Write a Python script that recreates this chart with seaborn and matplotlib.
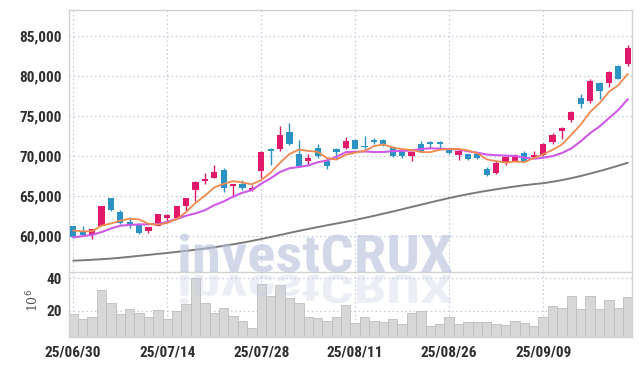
import numpy as np
import pandas as pd
import matplotlib
matplotlib.use("Agg")
import matplotlib.pyplot as plt
import matplotlib.ticker as mticker
import seaborn as sns
from matplotlib.textpath import TextPath
from matplotlib.patches import PathPatch
from matplotlib.font_manager import FontProperties, fontManager
from matplotlib.transforms import Affine2D

# ---------------- data ----------------
opens = [61200, 60500, 60100, 61300, 64800, 63000, 61800, 61500, 60600, 61300,
         62200, 62200, 63750, 65800, 66900, 67300, 68200, 66230, 66560, 65700,
         68170, 70900, 70900, 73000, 70280, 69400, 70980, 69320, 70900, 70980,
         72000, 71180, 72010, 72010, 71060, 70490, 70030, 71480, 71760, 71760,
         70890, 70060, 70190, 70240, 68420, 67890, 69160, 69410, 70360, 69820,
         70060, 71800, 73160, 74520, 77250, 76840, 79150, 79110, 81170, 81460]
highs = [61300, 61200, 60900, 63800, 64800, 63300, 62400, 61600, 61100, 62800,
         62700, 63800, 64800, 66850, 67880, 68900, 68450, 66500, 66970, 66400,
         70600, 70950, 73740, 74070, 72010, 70240, 71500, 69400, 71000, 72420,
         72100, 72500, 72200, 72100, 71300, 70600, 70600, 71880, 71900, 71900,
         71000, 70700, 70300, 70300, 68600, 69450, 69900, 70200, 70560, 70560,
         71600, 72880, 73600, 75560, 77700, 79560, 79200, 80600, 81290, 83880]
lows = [59750, 60000, 59700, 61200, 63100, 61500, 61000, 60250, 60400, 61200,
        61900, 62100, 63130, 64370, 66440, 67200, 65480, 64900, 65800, 65600,
        67260, 68900, 70560, 71400, 68700, 68830, 69800, 68420, 69620, 70900,
        70900, 70900, 71500, 71180, 69900, 69690, 69370, 70500, 70980, 70980,
        70250, 69530, 69500, 69650, 67460, 67800, 68910, 69350, 69350, 69700,
        70000, 71550, 72130, 74200, 75970, 76630, 77080, 78610, 79640, 81170]
closes = [59850, 60100, 60850, 63800, 63250, 61600, 61350, 60400, 61100, 62700,
          62600, 63800, 64750, 66800, 67150, 67950, 65950, 66480, 65950, 66030,
          70520, 70560, 72630, 71430, 68790, 69740, 69940, 68790, 70440, 71920,
          70900, 71060, 71800, 71510, 69940, 69940, 70490, 70560, 71430, 71430,
          70310, 70650, 69570, 69700, 67640, 69160, 69860, 70110, 69410, 70150,
          71510, 72630, 73490, 75470, 76470, 79400, 78110, 80520, 79640, 83520]
ma5 = [60700, 60600, 60600, 61300, 61570, 61920, 62170, 62080, 61540, 61430,
       61630, 62120, 62990, 64130, 65020, 66080, 66510, 66856, 66686, 66462,
       66986, 67908, 69138, 70234, 70786, 70630, 70506, 69738, 69540, 70166,
       70398, 70622, 71224, 71438, 71042, 70850, 70736, 70488, 70472, 70770,
       70844, 70876, 70678, 70332, 69574, 69344, 69186, 69294, 69236, 69738,
       70208, 70762, 71438, 72650, 73914, 75492, 76588, 77994, 78828, 80238]
ma10 = [59850, 60000, 60150, 60500, 60950, 61300, 61400, 61450, 61480, 61500,
        61775, 62145, 62535, 62835, 63225, 63855, 64315, 64923, 65408, 65741,
        66533, 67209, 67997, 68460, 68624, 68808, 69207, 69438, 69887, 70476,
        70514, 70564, 70481, 70489, 70604, 70624, 70679, 70856, 70955, 70906,
        70847, 70806, 70583, 70402, 70172, 70094, 70031, 69986, 69784, 69656,
        69776, 69974, 70366, 70943, 71826, 72850, 73675, 74716, 75739, 77076]
ma60 = [56940, 56990, 57050, 57120, 57200, 57300, 57420, 57540, 57660, 57780,
        57900, 58030, 58160, 58300, 58450, 58610, 58790, 58980, 59180, 59400,
        59640, 59890, 60140, 60400, 60650, 60890, 61120, 61350, 61570, 61790,
        62020, 62270, 62530, 62800, 63070, 63350, 63640, 63920, 64200, 64480,
        64750, 65000, 65230, 65450, 65650, 65840, 66020, 66190, 66350, 66480,
        66600, 66780, 66990, 67230, 67500, 67800, 68110, 68440, 68790, 69150]
volume = [18.0, 14.9, 16.1, 32.8, 24.8, 18.0, 20.8, 18.6, 16.1, 20.4,
          14.9, 19.8, 23.9, 40.2, 24.8, 18.6, 21.5, 16.7, 13.6, 9.3,
          36.5, 29.1, 35.9, 27.8, 24.8, 16.1, 15.5, 13.5, 15.9, 23.5,
          12.2, 16.3, 13.4, 12.8, 14.7, 11.8, 18.4, 19.6, 10.4, 11.6,
          15.9, 11.8, 12.8, 12.8, 12.8, 11.6, 11.0, 13.4, 12.2, 10.4,
          15.9, 22.7, 21.5, 28.9, 20.9, 28.9, 20.9, 26.4, 21.5, 28.3]
tick_labels = ["25/06/30", "25/07/14", "25/07/28", "25/08/11", "25/08/26", "25/09/09"]
tick_index = [0, 10, 20, 30, 40, 50]
price_ticks = [60000, 65000, 70000, 75000, 80000, 85000]
vol_ticks = [20, 40]

# ---------------- styling ----------------
sns.set_theme(style="white")
installed = {f.name for f in fontManager.ttflist}
if 'Roboto Condensed' in installed:
    LABEL_FONT, LABEL_SIZE = 'Roboto Condensed', 11.0
else:
    LABEL_FONT, LABEL_SIZE = 'Liberation Sans', 9.8
plt.rcParams['font.family'] = [LABEL_FONT, 'DejaVu Sans']

UP = '#e2196a'
DOWN = '#2b93c4'
GRID = '#c4c9dc'
SPINE = '#d2d2d2'
TXT = '#2e2e2e'

n = len(closes)
df = pd.DataFrame({
    'idx': np.arange(n), 'open': opens, 'high': highs, 'low': lows,
    'close': closes, 'ma5': ma5, 'ma10': ma10, 'ma60': ma60, 'volume': volume,
})
df['up'] = df['close'] >= df['open']
df['color'] = np.where(df['up'], UP, DOWN)
df['body_lo'] = df[['open', 'close']].min(axis=1)
df['body_h'] = (df['close'] - df['open']).abs().clip(lower=60)

fig = plt.figure(figsize=(6.43, 3.66), dpi=100)
L, R = 69 / 643, 632 / 643
ax = fig.add_axes([L, 1 - 271 / 366, R - L, (271 - 10) / 366])
axv = fig.add_axes([L, 1 - 337 / 366, R - L, (337 - 272) / 366])

for a in (ax, axv):
    a.set_facecolor('white')
    for s in a.spines.values():
        s.set_color(SPINE)
        s.set_linewidth(1.0)
    a.grid(True, linestyle=(0, (1.2, 2.2)), color=GRID, linewidth=0.9)
    a.set_axisbelow(True)
ax.spines['bottom'].set_visible(False)

# price panel
sns.lineplot(data=df, x='idx', y='ma60', ax=ax, color='#7a7a7a', linewidth=1.4, zorder=2)
ax.vlines(df['idx'], df['low'], df['high'], colors=df['color'], linewidth=1.0, zorder=3)
ax.bar(df['idx'], df['body_h'], bottom=df['body_lo'], width=0.66,
       color=df['color'], edgecolor='none', zorder=4)
sns.lineplot(data=df, x='idx', y='ma10', ax=ax, color='#cf5ae8', linewidth=1.5, zorder=5)
sns.lineplot(data=df, x='idx', y='ma5', ax=ax, color='#f08a4e', linewidth=1.3, zorder=6)

ax.set_xlim(-0.45, 59.45)
ax.set_ylim(55650, 88200)
ax.set_yticks(price_ticks)
ax.yaxis.set_major_formatter(mticker.StrMethodFormatter('{x:,.0f}'))
ax.set_xticks(tick_index)
ax.tick_params(axis='x', labelbottom=False, length=0)
ax.tick_params(axis='y', length=0, pad=5, labelsize=LABEL_SIZE, labelcolor=TXT)
ax.set_xlabel('')
ax.set_ylabel('')
for lab in ax.get_yticklabels():
    lab.set_fontweight('bold')

# volume panel
sns.barplot(data=df, x='idx', y='volume', ax=axv, native_scale=True, width=1.0,
            color='#d7d7d7', saturation=1, edgecolor='#bdbdbd', linewidth=0.6, zorder=2)
axv.set_xlim(-0.45, 59.45)
axv.set_ylim(3.8, 43.9)
axv.set_yticks(vol_ticks)
axv.set_xticks(tick_index)
axv.set_xticklabels(tick_labels)
axv.tick_params(axis='both', length=0, labelsize=LABEL_SIZE, labelcolor=TXT)
axv.tick_params(axis='x', pad=6)
axv.tick_params(axis='y', pad=5)
axv.set_xlabel('')
axv.set_ylabel('')
for lab in axv.get_xticklabels() + axv.get_yticklabels():
    lab.set_fontweight('bold')

fig.text(33 / 643, 1 - 300 / 366, '10$^6$', rotation=90, ha='center', va='center',
         fontsize=9, color='#555555', family='DejaVu Serif')

# watermark
fp = FontProperties(family=[LABEL_FONT, 'DejaVu Sans'], weight='bold')
tp = TextPath((0, 0), "investCRUX", size=100, prop=fp)
bb = tp.get_extents()
cap = TextPath((0, 0), "C", size=100, prop=fp).get_extents().height
sx = 272 / bb.width
sy = 38 / cap
x0 = 180 - bb.x0 * sx
base = 366 - 272
tr = Affine2D().scale(sx / 100, sy / 100).translate(x0 / 100, base / 100) + fig.dpi_scale_trans
fig.add_artist(PathPatch(tp, transform=tr, facecolor='#b9c1dd', edgecolor='none',
                         alpha=0.62, zorder=10))
tr2 = Affine2D().scale(sx / 100, -sy * 0.75 / 100).translate(x0 / 100, (base - 3) / 100) + fig.dpi_scale_trans
fig.add_artist(PathPatch(tp, transform=tr2, facecolor='#c9cfe4', edgecolor='none',
                         alpha=0.35, zorder=10))

fig.savefig('out.png', dpi=100)
